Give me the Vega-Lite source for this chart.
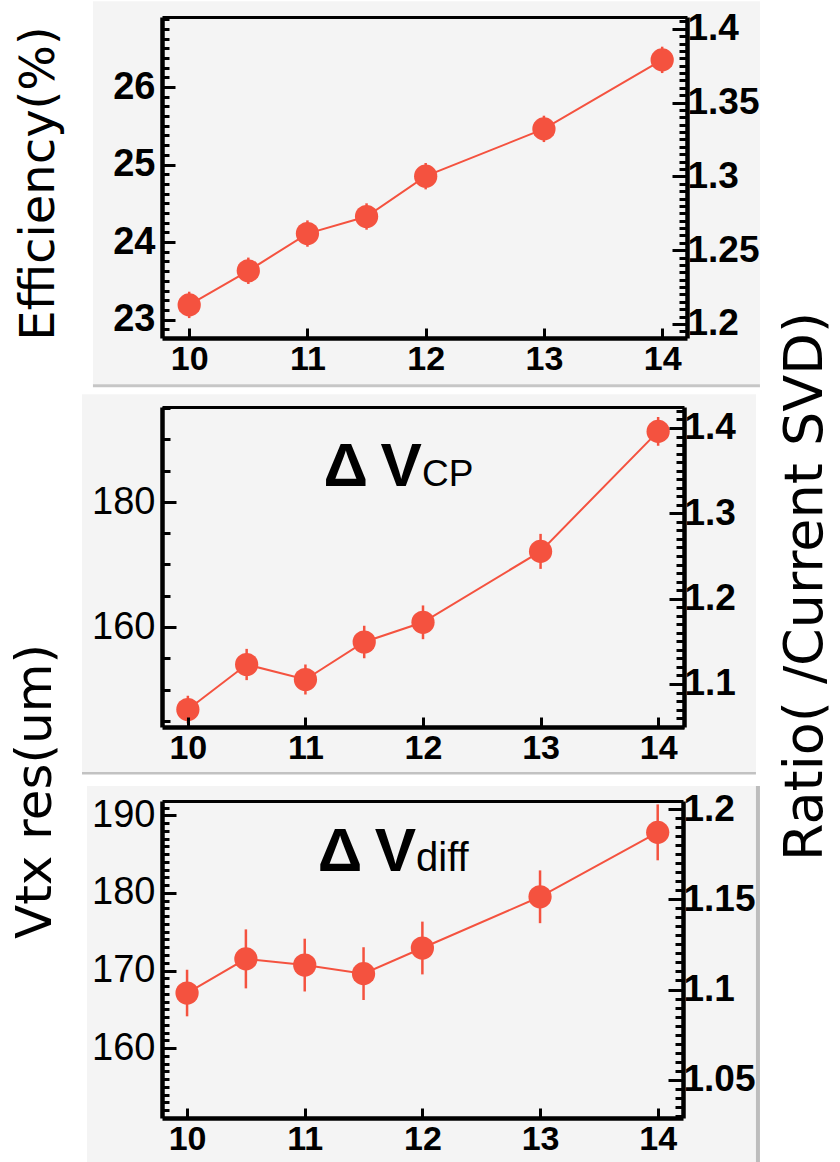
{
  "$schema": "https://vega.github.io/schema/vega-lite/v6.json",
  "background": "white",
  "padding": {"left": 10, "top": 0, "right": 12, "bottom": 0},
  "bounds": "flush",
  "spacing": 69,
  "config": {
    "view": {"stroke": null},
    "axis": {
      "zindex": 1,
      "grid": false,
      "domainColor": "black",
      "tickColor": "black",
      "labelColor": "black",
      "titleColor": "black",
      "labelFont": "Liberation Sans",
      "labelFontWeight": "bold",
      "labelFontSize": 37,
      "domainWidth": 4.5,
      "tickWidth": 3,
      "labelOverlap": false,
      "labelFlush": false,
      "labelBound": false,
      "titleFont": "DejaVu Sans",
      "titleFontWeight": "normal",
      "titleFontSize": 50
    }
  },
  "datasets": {
    "eff": [
      {"x": 10, "eff": 23.19, "err": 0.17},
      {"x": 10.5, "eff": 23.63, "err": 0.17},
      {"x": 11, "eff": 24.11, "err": 0.17},
      {"x": 11.5, "eff": 24.33, "err": 0.17},
      {"x": 12, "eff": 24.85, "err": 0.17},
      {"x": 13, "eff": 25.46, "err": 0.17},
      {"x": 14, "eff": 26.35, "err": 0.17}
    ],
    "cp": [
      {"x": 10, "res": 146.8, "err": 2.2},
      {"x": 10.5, "res": 154.0, "err": 2.5},
      {"x": 11, "res": 151.6, "err": 2.4},
      {"x": 11.5, "res": 157.6, "err": 2.6},
      {"x": 12, "res": 160.75, "err": 2.7},
      {"x": 13, "res": 172.1, "err": 2.8},
      {"x": 14, "res": 191.3, "err": 2.3}
    ],
    "diff": [
      {"x": 10, "res": 167.1, "err": 3.0},
      {"x": 10.5, "res": 171.5, "err": 3.8},
      {"x": 11, "res": 170.7, "err": 3.4},
      {"x": 11.5, "res": 169.6, "err": 3.4},
      {"x": 12, "res": 172.9, "err": 3.4},
      {"x": 13, "res": 179.5, "err": 3.4},
      {"x": 14, "res": 187.8, "err": 3.6}
    ]
  },
  "vconcat": [
    {
      "width": 525,
      "height": 321,
      "resolve": {"scale": {"x": "independent", "y": "independent"}},
      "layer": [
        {
          "layer": [
            {
              "data": {"values": [{}]},
              "mark": {"type": "rect", "clip": false, "color": "#f4f4f4"},
              "encoding": {
                "x": {"datum": 9.186, "axis": null}, "x2": {"datum": 14.827},
                "y": {"datum": 27.105, "axis": null}, "y2": {"datum": 22.166}
              }
            },
            {
              "data": {"values": [{}]},
              "mark": {"type": "rule", "clip": false, "color": "#c6c6c6", "strokeWidth": 3},
              "encoding": {"x": {"datum": 9.186, "axis": null}, "x2": {"datum": 14.827}, "y": {"datum": 22.147, "axis": null}}
            },
            {
              "data": {"name": "eff"},
              "mark": {"type": "line", "color": "#f4523f", "strokeWidth": 2},
              "encoding": {
                "x": {"field": "x", "type": "quantitative", "axis": null, "scale": {"domain": [9.77, 14.21], "nice": false, "zero": false}},
                "y": {"field": "eff", "type": "quantitative", "axis": null, "scale": {"domain": [22.763, 26.903], "nice": false, "zero": false}}
              }
            },
            {
              "data": {"name": "eff"},
              "mark": {"type": "errorbar", "color": "#f4523f", "rule": {"strokeWidth": 2.5}},
              "encoding": {
                "x": {"field": "x", "type": "quantitative", "axis": null},
                "y": {"field": "eff", "type": "quantitative", "axis": null},
                "yError": {"field": "err"}
              }
            },
            {
              "data": {"name": "eff"},
              "mark": {"type": "circle", "size": 540, "color": "#f4523f", "opacity": 1},
              "encoding": {
                "x": {"field": "x", "type": "quantitative", "axis": null},
                "y": {"field": "eff", "type": "quantitative", "axis": null}
              }
            }
          ]
        },
        {
          "data": {"values": [{}]},
          "mark": {"type": "point", "opacity": 0},
          "encoding": {
            "x": {
              "datum": 12, "type": "quantitative",
              "scale": {"domain": [9.77, 14.21], "nice": false, "zero": false},
              "axis": {
                "zindex": 1, "orient": "bottom", "values": [10, 11, 12, 13, 14], "format": "d",
                "tickSize": -10, "labelPadding": 14, "labelFontSize": 34, "title": null
              }
            },
            "y": {
              "datum": 25, "type": "quantitative",
              "scale": {"domain": [22.763, 26.903], "nice": false, "zero": false},
              "axis": {
                "zindex": 1, "orient": "left",
                "values": [22.875, 23, 23.125, 23.25, 23.375, 23.5, 23.625, 23.75, 23.875, 24, 24.125, 24.25, 24.375, 24.5, 24.625, 24.75, 24.875, 25, 25.125, 25.25, 25.375, 25.5, 25.625, 25.75, 25.875, 26, 26.125, 26.25, 26.375, 26.5, 26.625, 26.75, 26.875],
                "format": "~g",
                "labelExpr": "abs(datum.value - round(datum.value)) < 1e-6 ? datum.label : ''",
                "tickSize": {"condition": {"test": "abs(datum.value - round(datum.value)) < 1e-6", "value": -13}, "value": -7},
                "labelPadding": 20,
                "labelFontSize": 38,
                "title": "Efficiency(%)",
                "titleAngle": 270, "titleAlign": "center", "titleBaseline": "alphabetic",
                "titleX": -109, "titleY": 166, "titleFontSize": 48
              }
            }
          }
        },
        {
          "data": {"values": [{}]},
          "mark": {"type": "point", "opacity": 0},
          "encoding": {
            "x": {
              "datum": 12, "type": "quantitative",
              "scale": {"domain": [9.77, 14.21], "nice": false, "zero": false},
              "axis": {"zindex": 1, "orient": "top", "labels": false, "ticks": false, "domainWidth": 3, "title": null}
            },
            "y": {
              "datum": 1.3, "type": "quantitative",
              "scale": {"domain": [1.1905, 1.408], "nice": false, "zero": false},
              "axis": {
                "zindex": 1, "orient": "right",
                "values": [1.195, 1.2, 1.205, 1.21, 1.215, 1.22, 1.225, 1.23, 1.235, 1.24, 1.245, 1.25, 1.255, 1.26, 1.265, 1.27, 1.275, 1.28, 1.285, 1.29, 1.295, 1.3, 1.305, 1.31, 1.315, 1.32, 1.325, 1.33, 1.335, 1.34, 1.345, 1.35, 1.355, 1.36, 1.365, 1.37, 1.375, 1.38, 1.385, 1.39, 1.395, 1.4, 1.405],
                "format": "~g",
                "labelExpr": "abs(datum.value * 20 - round(datum.value * 20)) < 1e-6 ? datum.label : ''",
                "tickSize": {"condition": {"test": "abs(datum.value * 20 - round(datum.value * 20)) < 1e-6", "value": -15}, "value": -8},
                "labelPadding": 15,
                "title": null
              }
            }
          }
        }
      ]
    },
    {
      "bounds": "flush",
      "spacing": 74,
      "vconcat": [
        {
          "width": 522,
          "height": 320,
          "resolve": {"scale": {"x": "independent", "y": "independent"}},
          "layer": [
            {
              "layer": [
                {
                  "data": {"values": [{}]},
                  "mark": {"type": "rect", "clip": false, "color": "#f4f4f4"},
                  "encoding": {
                    "x": {"datum": 9.0996, "axis": null}, "x2": {"datum": 14.832},
                    "y": {"datum": 197.23, "axis": null}, "y2": {"datum": 136.75}
                  }
                },
                {
                  "data": {"values": [{}]},
                  "mark": {"type": "rule", "clip": false, "color": "#c2c2c2", "strokeWidth": 2.5},
                  "encoding": {"x": {"datum": 9.0996, "axis": null}, "x2": {"datum": 14.832}, "y": {"datum": 136.59, "axis": null}}
                },
                {
                  "data": {"name": "cp"},
                  "mark": {"type": "line", "color": "#f4523f", "strokeWidth": 2},
                  "encoding": {
                    "x": {"field": "x", "type": "quantitative", "axis": null, "scale": {"domain": [9.78, 14.22], "nice": false, "zero": false}},
                    "y": {"field": "res", "type": "quantitative", "axis": null, "scale": {"domain": [144, 195.2], "nice": false, "zero": false}}
                  }
                },
                {
                  "data": {"name": "cp"},
                  "mark": {"type": "errorbar", "color": "#f4523f", "rule": {"strokeWidth": 2.5}},
                  "encoding": {
                    "x": {"field": "x", "type": "quantitative", "axis": null},
                    "y": {"field": "res", "type": "quantitative", "axis": null},
                    "yError": {"field": "err"}
                  }
                },
                {
                  "data": {"name": "cp"},
                  "mark": {"type": "circle", "size": 540, "color": "#f4523f", "opacity": 1},
                  "encoding": {
                    "x": {"field": "x", "type": "quantitative", "axis": null},
                    "y": {"field": "res", "type": "quantitative", "axis": null}
                  }
                },
                {
                  "data": {"values": [{}]},
                  "mark": {"type": "text", "text": "Δ\u2009V", "align": "right", "baseline": "alphabetic", "font": "Liberation Sans", "fontWeight": "bold", "fontSize": 62, "color": "black"},
                  "encoding": {"x": {"datum": 11.991, "axis": null}, "y": {"datum": 182.5, "axis": null}}
                },
                {
                  "data": {"values": [{}]},
                  "mark": {"type": "text", "text": "CP", "align": "left", "baseline": "alphabetic", "font": "Liberation Sans", "fontSize": 37, "color": "black"},
                  "encoding": {"x": {"datum": 11.991, "axis": null}, "y": {"datum": 182.5, "axis": null}}
                }
              ]
            },
            {
              "data": {"values": [{}]},
              "mark": {"type": "point", "opacity": 0},
              "encoding": {
                "x": {
                  "datum": 12, "type": "quantitative",
                  "scale": {"domain": [9.78, 14.22], "nice": false, "zero": false},
                  "axis": {
                    "zindex": 1, "orient": "bottom", "values": [10, 11, 12, 13, 14], "format": "d",
                    "tickSize": -10, "labelPadding": 14, "labelFontSize": 34, "title": null
                  }
                },
                "y": {
                  "datum": 170, "type": "quantitative",
                  "scale": {"domain": [144, 195.2], "nice": false, "zero": false},
                  "axis": {
                    "zindex": 1, "orient": "left",
                    "values": [145, 150, 155, 160, 165, 170, 175, 180, 185, 190, 195],
                    "format": "d",
                    "labelExpr": "datum.value % 20 == 0 ? datum.label : ''",
                    "tickSize": {"condition": {"test": "datum.value % 20 == 0", "value": -14}, "value": -8},
                    "labelPadding": 21,
                    "labelFontWeight": "normal",
                    "labelFontSize": 38,
                    "title": "Vtx res(um)",
                    "titleAngle": 270, "titleAlign": "center", "titleBaseline": "alphabetic",
                    "titleX": -112, "titleY": 384, "titleFontSize": 50
                  }
                }
              }
            },
            {
              "data": {"values": [{}]},
              "mark": {"type": "point", "opacity": 0},
              "encoding": {
                "x": {
                  "datum": 12, "type": "quantitative",
                  "scale": {"domain": [9.78, 14.22], "nice": false, "zero": false},
                  "axis": {"zindex": 1, "orient": "top", "labels": false, "ticks": false, "domainWidth": 3, "title": null}
                },
                "y": {
                  "datum": 1.2, "type": "quantitative",
                  "scale": {"domain": [1.0496, 1.4246], "nice": false, "zero": false},
                  "axis": {
                    "zindex": 1, "orient": "right",
                    "values": [1.05, 1.06, 1.07, 1.08, 1.09, 1.1, 1.11, 1.12, 1.13, 1.14, 1.15, 1.16, 1.17, 1.18, 1.19, 1.2, 1.21, 1.22, 1.23, 1.24, 1.25, 1.26, 1.27, 1.28, 1.29, 1.3, 1.31, 1.32, 1.33, 1.34, 1.35, 1.36, 1.37, 1.38, 1.39, 1.4, 1.41, 1.42],
                    "format": "~g",
                    "labelExpr": "abs(datum.value * 10 - round(datum.value * 10)) < 1e-6 ? datum.label : ''",
                    "tickSize": {"condition": {"test": "abs(datum.value * 10 - round(datum.value * 10)) < 1e-6", "value": -15}, "value": -8},
                    "labelPadding": 15,
                    "title": "Ratio( /Current SVD)",
                    "titleAngle": 270, "titleAlign": "center", "titleBaseline": "alphabetic",
                    "titleX": 137, "titleY": 179, "titleFontSize": 54
                  }
                }
              }
            }
          ]
        },
        {
          "width": 521,
          "height": 317,
          "resolve": {"scale": {"x": "independent", "y": "independent"}},
          "layer": [
            {
              "layer": [
                {
                  "data": {"values": [{}]},
                  "mark": {"type": "rect", "clip": false, "color": "#f4f4f4"},
                  "encoding": {
                    "x": {"datum": 9.1496, "axis": null}, "x2": {"datum": 14.835},
                    "y": {"datum": 193.77, "axis": null}, "y2": {"datum": 145.2}
                  }
                },
                {
                  "data": {"values": [{}]},
                  "mark": {"type": "rule", "clip": false, "color": "#bdbdbd", "strokeWidth": 4},
                  "encoding": {"x": {"datum": 14.852, "axis": null}, "y": {"datum": 193.77, "axis": null}, "y2": {"datum": 145.2}}
                },
                {
                  "data": {"name": "diff"},
                  "mark": {"type": "line", "color": "#f4523f", "strokeWidth": 2},
                  "encoding": {
                    "x": {"field": "x", "type": "quantitative", "axis": null, "scale": {"domain": [9.787, 14.215], "nice": false, "zero": false}},
                    "y": {"field": "res", "type": "quantitative", "axis": null, "scale": {"domain": [151.0, 191.84], "nice": false, "zero": false}}
                  }
                },
                {
                  "data": {"name": "diff"},
                  "mark": {"type": "errorbar", "color": "#f4523f", "rule": {"strokeWidth": 2.5}},
                  "encoding": {
                    "x": {"field": "x", "type": "quantitative", "axis": null},
                    "y": {"field": "res", "type": "quantitative", "axis": null},
                    "yError": {"field": "err"}
                  }
                },
                {
                  "data": {"name": "diff"},
                  "mark": {"type": "circle", "size": 540, "color": "#f4523f", "opacity": 1},
                  "encoding": {
                    "x": {"field": "x", "type": "quantitative", "axis": null},
                    "y": {"field": "res", "type": "quantitative", "axis": null}
                  }
                },
                {
                  "data": {"values": [{}]},
                  "mark": {"type": "text", "text": "Δ\u2009V", "align": "right", "baseline": "alphabetic", "font": "Liberation Sans", "fontWeight": "bold", "fontSize": 62, "color": "black"},
                  "encoding": {"x": {"datum": 11.946, "axis": null}, "y": {"datum": 182.8, "axis": null}}
                },
                {
                  "data": {"values": [{}]},
                  "mark": {"type": "text", "text": "diff", "align": "left", "baseline": "alphabetic", "font": "Liberation Sans", "fontSize": 40, "color": "black"},
                  "encoding": {"x": {"datum": 11.946, "axis": null}, "y": {"datum": 182.8, "axis": null}}
                }
              ]
            },
            {
              "data": {"values": [{}]},
              "mark": {"type": "point", "opacity": 0},
              "encoding": {
                "x": {
                  "datum": 12, "type": "quantitative",
                  "scale": {"domain": [9.787, 14.215], "nice": false, "zero": false},
                  "axis": {
                    "zindex": 1, "orient": "bottom", "values": [10, 11, 12, 13, 14], "format": "d",
                    "tickSize": -10, "labelPadding": 14, "labelFontSize": 34, "title": null
                  }
                },
                "y": {
                  "datum": 170, "type": "quantitative",
                  "scale": {"domain": [151.0, 191.84], "nice": false, "zero": false},
                  "axis": {
                    "zindex": 1, "orient": "left",
                    "values": [152, 153, 154, 155, 156, 157, 158, 159, 160, 161, 162, 163, 164, 165, 166, 167, 168, 169, 170, 171, 172, 173, 174, 175, 176, 177, 178, 179, 180, 181, 182, 183, 184, 185, 186, 187, 188, 189, 190, 191],
                    "format": "d",
                    "labelExpr": "datum.value % 10 == 0 ? datum.label : ''",
                    "tickSize": {"condition": {"test": "datum.value % 10 == 0", "value": -14}, "value": -7},
                    "labelPadding": 21,
                    "labelFontWeight": "normal",
                    "labelFontSize": 38,
                    "title": null
                  }
                }
              }
            },
            {
              "data": {"values": [{}]},
              "mark": {"type": "point", "opacity": 0},
              "encoding": {
                "x": {
                  "datum": 12, "type": "quantitative",
                  "scale": {"domain": [9.787, 14.215], "nice": false, "zero": false},
                  "axis": {"zindex": 1, "orient": "top", "labels": false, "ticks": false, "domainWidth": 3, "title": null}
                },
                "y": {
                  "datum": 1.1, "type": "quantitative",
                  "scale": {"domain": [1.0287, 1.2046], "nice": false, "zero": false},
                  "axis": {
                    "zindex": 1, "orient": "right",
                    "values": [1.03, 1.035, 1.04, 1.045, 1.05, 1.055, 1.06, 1.065, 1.07, 1.075, 1.08, 1.085, 1.09, 1.095, 1.1, 1.105, 1.11, 1.115, 1.12, 1.125, 1.13, 1.135, 1.14, 1.145, 1.15, 1.155, 1.16, 1.165, 1.17, 1.175, 1.18, 1.185, 1.19, 1.195, 1.2],
                    "format": "~g",
                    "labelExpr": "abs(datum.value * 20 - round(datum.value * 20)) < 1e-6 ? datum.label : ''",
                    "tickSize": {"condition": {"test": "abs(datum.value * 20 - round(datum.value * 20)) < 1e-6", "value": -15}, "value": -8},
                    "labelPadding": 15,
                    "title": null
                  }
                }
              }
            }
          ]
        }
      ]
    }
  ]
}
